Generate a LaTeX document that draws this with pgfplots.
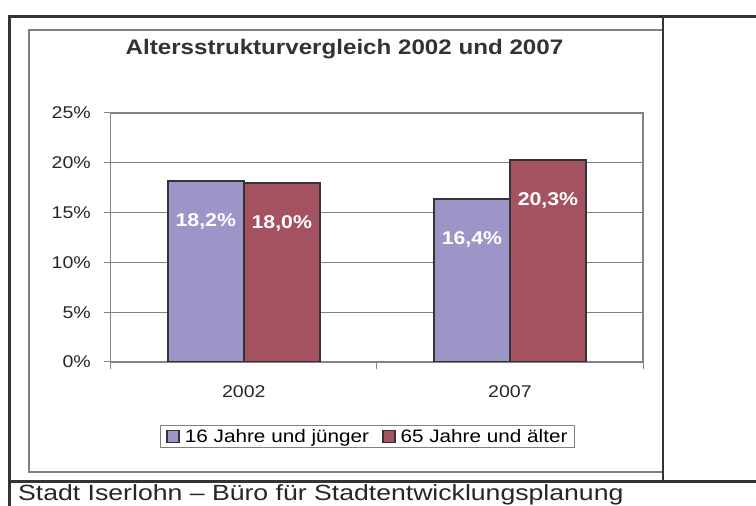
\documentclass[border=0pt]{standalone}
\usepackage{pgfplots}
\pgfplotsset{compat=1.18}
\usepackage{fontspec}
\setmainfont{Liberation Sans}[FakeStretch=1.15]
\newfontfamily\footfont{Liberation Sans}[FakeStretch=1.21]
\definecolor{barA}{HTML}{9B95C8}
\definecolor{barB}{HTML}{A55260}
\definecolor{edge}{HTML}{333338}
\definecolor{frame}{HTML}{808080}
\definecolor{axisc}{HTML}{8A8080}
\begin{document}
\begin{tikzpicture}
\clip (0pt,0pt) rectangle (756pt,506pt);
\fill[white] (0pt,0pt) rectangle (756pt,506pt);
\draw[frame, line width=1.6pt] (29pt,34pt) rectangle (663pt,476pt);
\draw[edge, line width=3pt] (9pt,0pt) -- (9pt,489pt) -- (756pt,489pt);
\draw[edge, line width=3pt] (9pt,24pt) -- (756pt,24pt);
\draw[edge, line width=2pt] (663pt,489pt) -- (663pt,24pt);
\node[anchor=base west, inner sep=0pt, font=\footfont\fontsize{22}{25}\selectfont, text=black!85] at (18pt,5.5pt) {Stadt Iserlohn – Büro für Stadtentwicklungsplanung};
\node[anchor=base, inner sep=0pt, font=\fontsize{21}{24}\selectfont\bfseries, text=black!80] at (344.5pt,451pt) {Altersstrukturvergleich 2002 und 2007};
\begin{axis}[
  scale only axis, width=532.3pt, height=249pt,
  at={(110.7pt,144pt)}, anchor=south west,
  xmin=-0.5, xmax=1.5, ymin=0, ymax=25,
  ybar=0pt, bar width=76pt,
  xtick={-0.5,0.5,1.5}, xticklabels={},
  extra x ticks={0,1}, extra x tick labels={2002,2007},
  extra x tick style={major tick length=0pt, grid=none},
  ytick={0,5,10,15,20,25}, yticklabels={0\%,5\%,10\%,15\%,20\%,25\%},
  xtick pos=bottom, ytick pos=left,
  tick align=outside, major tick length=7pt,
  tick style={axisc, line width=1pt},
  ymajorgrids, xmajorgrids=false,
  grid style={frame, line width=0.8pt},
  axis line style={axisc, line width=1.4pt},
  ticklabel style={font=\fontsize{17}{19}\selectfont, text=black!85},
  xticklabel style={inner sep=0pt, anchor=north, yshift=-23pt},
  yticklabel style={inner sep=0pt, anchor=east, xshift=-12.7pt},
  nodes near coords={\labeltext},
  nodes near coords style={anchor=center, yshift=-41pt, text=white, font=\fontsize{18.5}{20}\selectfont\bfseries},
  point meta=explicit symbolic,
  legend columns=2,
  legend style={at={(0.4824,-0.2992)}, anchor=center, draw=frame, line width=1pt,
    font=\fontsize{18}{20}\selectfont, inner xsep=6pt, inner ysep=3pt,
    nodes={inner sep=1pt},
    /tikz/every odd column/.append style={column sep=4pt},
    /tikz/every even column/.append style={column sep=12pt}},
]
\def\labeltext{\pgfplotspointmeta}
\addplot[fill=barA, draw=edge, line width=1.8pt,
  legend image code/.code={\draw[fill=barA, draw=edge, line width=1.5pt] (0pt,-6pt) rectangle (12pt,6pt);}]
  coordinates {(0,18.2) [18,2\%] (1,16.4) [16,4\%]};
\addplot[fill=barB, draw=edge, line width=1.8pt,
  legend image code/.code={\draw[fill=barB, draw=edge, line width=1.5pt] (0pt,-6pt) rectangle (12pt,6pt);}]
  coordinates {(0,18.0) [18,0\%] (1,20.3) [20,3\%]};
\legend{16 Jahre und jünger, 65 Jahre und älter}
\end{axis}
\end{tikzpicture}
\end{document}
